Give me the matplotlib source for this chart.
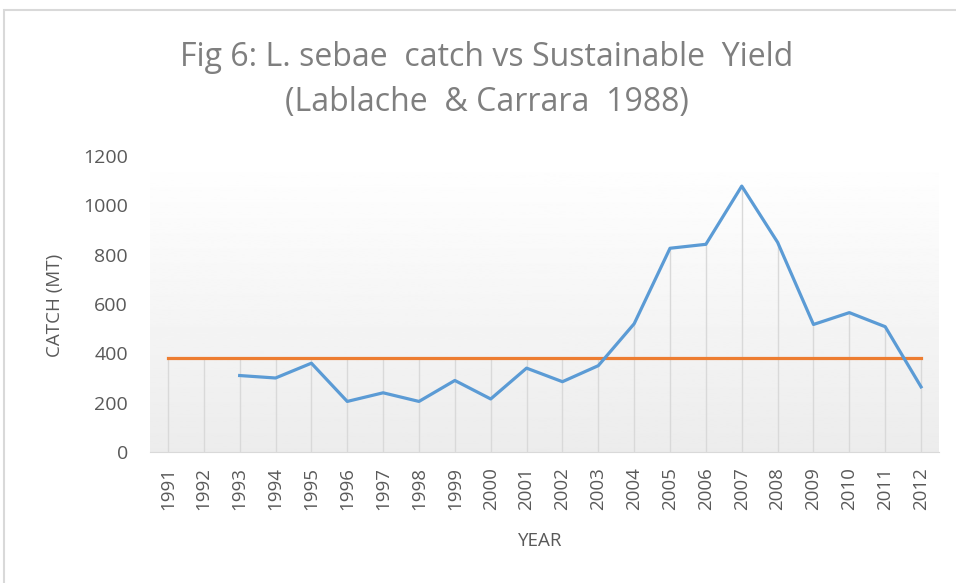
import numpy as np
import matplotlib.pyplot as plt
from matplotlib.patches import Rectangle

years = [str(y) for y in range(1991, 2013)]
catch = [np.nan, np.nan, 310, 300, 360, 205, 240, 205, 290, 215, 340,
         285, 350, 520, 826, 842, 1078, 850, 517, 565, 508, 264]
yield_level = [380] * len(years)

grey = '#595959'
plt.rcParams['font.family'] = ['Open Sans', 'DejaVu Sans']

fig = plt.figure(figsize=(9.56, 5.83), dpi=100)
ax = fig.add_axes([150/956, 1-452/583, 789/956, (452-156)/583])

x = np.arange(len(years))
ax.set_xlim(-0.5, len(years) - 0.5)
ax.set_ylim(0, 1200)

# gradient plot area background
grad = np.linspace(1.0, 0.925, 256).reshape(-1, 1)
ax.imshow(grad, extent=(-0.5, len(years) - 0.5, 0, 1200), aspect='auto',
          cmap='gray', vmin=0, vmax=1, zorder=0, origin='upper')

# drop lines
tops = np.fmax(np.array(catch, dtype=float), np.array(yield_level, dtype=float))
ax.vlines(x, 0, tops, color='#d9d9d9', lw=1, zorder=1)

ax.plot(x, yield_level, color='#ed7d31', lw=2.3, zorder=3)
ax.plot(x, catch, color='#5b9bd5', lw=2.3, zorder=4)

ax.set_xticks(x)
ax.set_xticklabels(years, rotation=90, fontsize=13.5, color=grey)
ax.set_yticks(range(0, 1201, 200))
ax.set_yticklabels([str(v) for v in range(0, 1201, 200)], fontsize=14, color=grey)
ax.tick_params(length=0)
ax.tick_params(axis='x', pad=11)
ax.tick_params(axis='y', pad=16)
for s in ['top', 'right', 'left']:
    ax.spines[s].set_visible(False)
ax.spines['bottom'].set_color('#d9d9d9')

fig.text(540/956, 1-541/583, 'YEAR', fontsize=13.5, color=grey,
         ha='center', va='center')
fig.text(55/956, 1-305/583, 'CATCH (MT)', rotation=90, fontsize=13.5,
         color=grey, ha='center', va='center')

fig.text(487/956, 1-57/583, 'Fig 6: L. sebae  catch vs Sustainable  Yield',
         fontsize=23, color='#7f7f7f', ha='center', va='center')
fig.text(487/956, 1-103/583, '(Lablache  & Carrara  1988)',
         fontsize=23, color='#7f7f7f', ha='center', va='center')

# chart border
fig.patches.append(Rectangle((4/956, -0.1), 1.2, 1 - 10/583 + 0.1,
                             transform=fig.transFigure, fill=False,
                             edgecolor='#d9d9d9', lw=1.5))

fig.savefig('out.png', dpi=100)
